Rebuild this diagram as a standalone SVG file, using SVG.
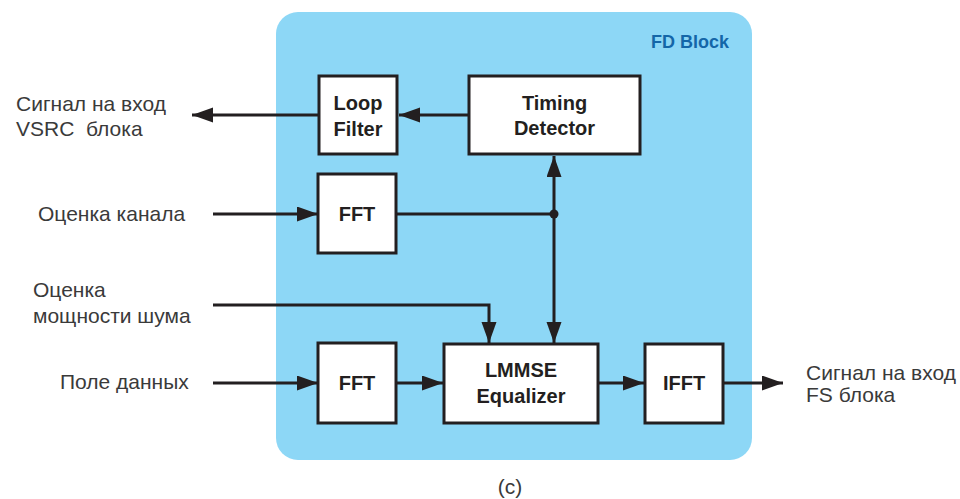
<svg xmlns="http://www.w3.org/2000/svg" width="960" height="499" viewBox="0 0 960 499">
<defs>
<style>
.box{fill:#fff;stroke:#231f20;stroke-width:3}
.bt{font-family:"Liberation Sans",Arial,sans-serif;font-weight:bold;font-size:20px;fill:#231f20;text-anchor:middle}
.lbl{font-family:"Liberation Sans",Arial,sans-serif;font-size:21px;fill:#3a3a3a}
.ln{fill:none;stroke:#231f20;stroke-width:3}
</style>
<marker id="ah" markerUnits="userSpaceOnUse" markerWidth="22" markerHeight="16" refX="21" refY="7.5" orient="auto">
<path d="M0,0 L21,7.5 L0,15 z" fill="#231f20"/>
</marker>
</defs>
<rect id="fd-block" x="276" y="12" width="476" height="448" rx="22" fill="#8dd7f6"/>
<text x="729" y="48" font-family="Liberation Sans,Arial,sans-serif" font-weight="bold" font-size="18" fill="#1466a8" text-anchor="end">FD Block</text>
<g id="connectors">
<path class="ln" d="M469,115 L399,115" marker-end="url(#ah)"/>
<path class="ln" d="M319,115 L192,115" marker-end="url(#ah)"/>
<path class="ln" d="M213,214 L318,214" marker-end="url(#ah)"/>
<path class="ln" d="M396,214 L554,214"/>
<path class="ln" d="M554,214 L554,156" marker-end="url(#ah)"/>
<path class="ln" d="M554,214 L554,343" marker-end="url(#ah)"/>
<circle cx="554" cy="214" r="4.5" fill="#231f20"/>
<path class="ln" d="M213,305 L489,305 L489,343" marker-end="url(#ah)"/>
<path class="ln" d="M213,383 L318,383" marker-end="url(#ah)"/>
<path class="ln" d="M396,383 L443,383" marker-end="url(#ah)"/>
<path class="ln" d="M598,383 L644,383" marker-end="url(#ah)"/>
<path class="ln" d="M723,383 L783,383" marker-end="url(#ah)"/>
</g>
<g id="loop-filter"><rect class="box" x="319" y="76" width="78" height="78"/><text class="bt" x="358" y="110">Loop</text><text class="bt" x="358" y="136">Filter</text></g>
<g id="timing-detector"><rect class="box" x="469" y="76" width="171" height="78"/><text class="bt" x="554.5" y="110">Timing</text><text class="bt" x="554.5" y="135">Detector</text></g>
<g id="fft1"><rect class="box" x="318" y="174" width="78" height="79"/><text class="bt" x="357" y="221">FFT</text></g>
<g id="fft2"><rect class="box" x="318" y="343" width="78" height="80"/><text class="bt" x="357" y="390">FFT</text></g>
<g id="lmmse"><rect class="box" x="444" y="344" width="154" height="79"/><text class="bt" x="521" y="377">LMMSE</text><text class="bt" x="521" y="403">Equalizer</text></g>
<g id="ifft"><rect class="box" x="645" y="344" width="78" height="79"/><text class="bt" x="684" y="390">IFFT</text></g>
<g id="labels">
<text class="lbl" x="16" y="111">Сигнал на вход</text>
<text class="lbl" x="16" y="136" xml:space="preserve" style="white-space:pre">VSRC  блока</text>
<text class="lbl" x="38" y="221">Оценка канала</text>
<text class="lbl" x="33" y="297">Оценка</text>
<text class="lbl" x="33" y="323">мощности шума</text>
<text class="lbl" x="60" y="389">Поле данных</text>
<text class="lbl" x="806" y="380">Сигнал на вход</text>
<text class="lbl" x="806" y="402">FS блока</text>
<text class="lbl" x="510" y="494" font-size="22" text-anchor="middle">(c)</text>
</g>
</svg>
